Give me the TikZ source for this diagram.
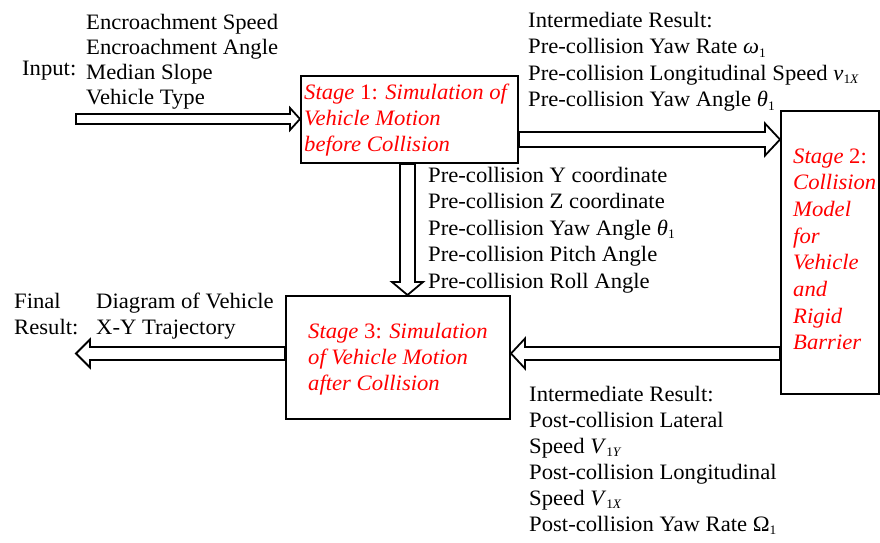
\documentclass[tikz,border=0pt]{standalone}
\usepackage{fontspec}
\setmainfont[FakeStretch=1.03]{Liberation Serif}
\usetikzlibrary{calc}
\newcommand\blk[1]{\begin{tabular}[t]{@{}l@{}}#1\end{tabular}}
\newcommand\sub[1]{\raisebox{-0.35ex}{\fontsize{13}{13}\selectfont #1}}
\newcommand\fatarrow[5]{%
  \coordinate (fa@h) at ($(#2)!#5!(#1)$);
  \draw[arrowline] ($(#1)!#3!90:(#2)$) -- ($(fa@h)!#3!90:(#2)$) -- ($(fa@h)!#4!90:(#2)$)
    -- (#2) -- ($(fa@h)!#4!-90:(#2)$) -- ($(fa@h)!#3!-90:(#2)$) -- ($(#1)!#3!-90:(#2)$) -- cycle;}
\tikzset{
  box/.style={draw, line width=2pt, inner sep=0pt, anchor=north west},
  txt/.style={inner sep=0pt, anchor=base west, font=\fontsize{22}{26.4}\selectfont},
  red/.style={text=red},
  arrowline/.style={draw, line width=1.8pt, fill=white, line join=miter},
}
\begin{document}
\begin{tikzpicture}[x=1pt,y=-1pt]
\useasboundingbox (0,0) rectangle (880,542);
% boxes
\node[box, minimum width=217pt, minimum height=87pt] (b1) at (300,75) {};
\node[box, minimum width=98pt, minimum height=283pt] (b2) at (780,110) {};
\node[box, minimum width=224pt, minimum height=123pt] (b3) at (285,295) {};
% box texts
\node[txt, red] (t1) at (304,99) {\blk{\textit{Stage} 1: \textit{Simulation of}\\ \textit{Vehicle Motion}\\ \textit{before Collision}}};
\node[txt, red, font=\fontsize{22}{26.7}\selectfont] (t2) at (793,163) {\blk{\textit{Stage} 2:\\ \textit{Collision}\\ \textit{Model}\\ \textit{for}\\ \textit{Vehicle}\\ \textit{and}\\ \textit{Rigid}\\ \textit{Barrier}}};
\node[txt, red] (t3) at (308,338) {\blk{\textit{Stage} 3: \textit{Simulation}\\ \textit{of Vehicle Motion}\\ \textit{after Collision}}};
% labels
\node[txt] (inlab) at (22,75) {Input:};
\node[txt, font=\fontsize{22}{25}\selectfont] (inlist) at (86,29) {\blk{Encroachment Speed\\ Encroachment Angle\\ Median Slope\\ Vehicle Type}};
\node[txt, font=\fontsize{22}{26.6}\selectfont] (ir1) at (528,27) {\blk{Intermediate Result:\\ Pre-collision Yaw Rate \textit{ω}\sub{1}\\ Pre-collision Longitudinal Speed \textit{v}\sub{1\textit{X}}\\ Pre-collision Yaw Angle \textit{θ}\sub{1}}};
\node[txt, font=\fontsize{22}{26.5}\selectfont] (mid) at (428,182) {\blk{Pre-collision Y coordinate\\ Pre-collision Z coordinate\\ Pre-collision Yaw Angle \textit{θ}\sub{1}\\ Pre-collision Pitch Angle\\ Pre-collision Roll Angle}};
\node[txt] (fin) at (14,308) {\blk{Final\\ Result:}};
\node[txt] (traj) at (96,308) {\blk{Diagram of Vehicle\\ X-Y Trajectory}};
\node[txt, font=\fontsize{22}{26}\selectfont] (ir2) at (529,401) {\blk{Intermediate Result:\\ Post-collision Lateral\\ Speed \textit{V}\sub{1\textit{Y}}\\ Post-collision Longitudinal\\ Speed \textit{V}\sub{1\textit{X}}\\ Post-collision Yaw Rate Ω\sub{1}}};
% connectors
\coordinate (inS) at (76,119);
\fatarrow{inS}{b1.west |- inS}{5pt}{11pt}{10pt}
\coordinate (a12) at (b1.east |- 0,139.5);
\fatarrow{a12}{b2.west |- a12}{7.5pt}{16pt}{15pt}
\coordinate (a13) at (407.5,0 |- b1.south);
\fatarrow{a13}{a13 |- b3.north}{7.5pt}{15.5pt}{13pt}
\coordinate (a23) at (b2.west |- 0,353.5);
\fatarrow{a23}{b3.east |- a23}{6.5pt}{15pt}{14pt}
\coordinate (outE) at (76,353.5);
\fatarrow{b3.west |- outE}{outE}{6.5pt}{14pt}{14pt}
\end{tikzpicture}
\end{document}
